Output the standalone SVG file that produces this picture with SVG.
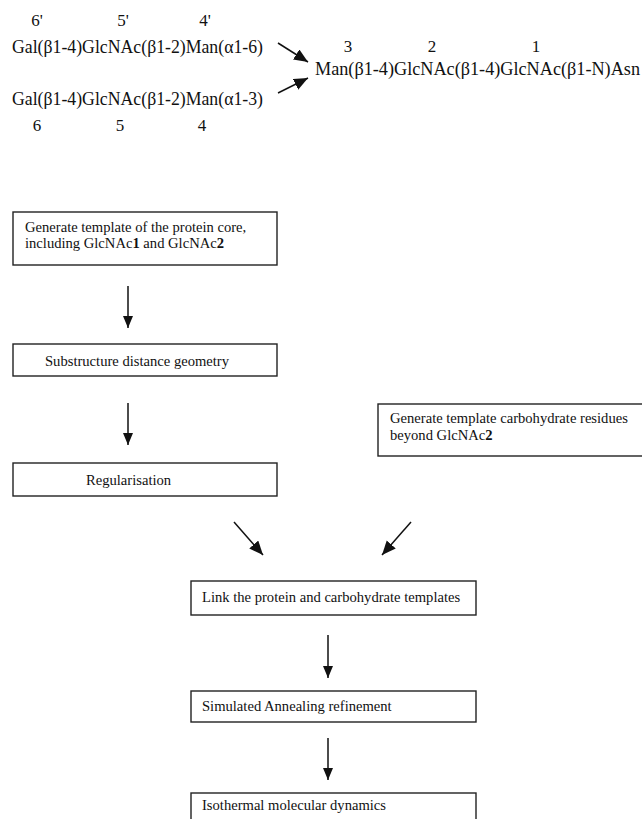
<svg xmlns="http://www.w3.org/2000/svg" width="642" height="819" viewBox="0 0 642 819">
<style>
text{font-family:"Liberation Serif","Times New Roman",serif;fill:#111}
.chem{font-size:18px}
.num{font-size:17px;text-anchor:middle}
.lbl{font-size:14.6px}
.box{fill:#fff;stroke:#222;stroke-width:1.4}
.conn line{stroke:#111;stroke-width:1.5}
</style>
<defs>
<marker id="ah" markerUnits="userSpaceOnUse" markerWidth="13" markerHeight="11" refX="12" refY="5" orient="auto">
<path d="M0,0 L12,5 L0,10 z" fill="#111"/>
</marker>
<marker id="ahb" markerUnits="userSpaceOnUse" markerWidth="15" markerHeight="13" refX="14" refY="6" orient="auto">
<path d="M0,0 L14,6 L0,12 z" fill="#111"/>
</marker>
</defs>
<rect width="642" height="819" fill="#fff"/>

<g id="glycan">
<text class="num" x="37" y="26">6'</text>
<text class="num" x="123" y="26">5'</text>
<text class="num" x="205" y="26">4'</text>
<text class="chem" x="12" y="53" textLength="251" lengthAdjust="spacingAndGlyphs">Gal(β1-4)GlcNAc(β1-2)Man(α1-6)</text>
<text class="chem" x="12" y="105" textLength="251" lengthAdjust="spacingAndGlyphs">Gal(β1-4)GlcNAc(β1-2)Man(α1-3)</text>
<text class="num" x="37" y="131">6</text>
<text class="num" x="120" y="131">5</text>
<text class="num" x="202" y="131">4</text>
<text class="num" x="348" y="52">3</text>
<text class="num" x="432" y="52">2</text>
<text class="num" x="536" y="52">1</text>
<text class="chem" x="315" y="75" textLength="325" lengthAdjust="spacingAndGlyphs">Man(β1-4)GlcNAc(β1-4)GlcNAc(β1-N)Asn</text>
</g>

<g id="n1">
<rect class="box" x="13" y="212" width="264" height="53"/>
<text class="lbl" x="25" y="232">Generate template of the protein core,</text>
<text class="lbl" x="25" y="248">including GlcNAc<tspan font-weight="bold">1</tspan> and GlcNAc<tspan font-weight="bold">2</tspan></text>
</g>
<g id="n2">
<rect class="box" x="13" y="344" width="264" height="32"/>
<text class="lbl" x="45" y="366">Substructure distance geometry</text>
</g>
<g id="n3">
<rect class="box" x="13" y="463" width="264" height="33"/>
<text class="lbl" x="86" y="485">Regularisation</text>
</g>
<g id="n4">
<rect class="box" x="378" y="404" width="270" height="52"/>
<text class="lbl" x="390" y="423">Generate template carbohydrate residues</text>
<text class="lbl" x="390" y="440">beyond GlcNAc<tspan font-weight="bold">2</tspan></text>
</g>
<g id="n5">
<rect class="box" x="191" y="581" width="285" height="34"/>
<text class="lbl" x="202" y="602">Link the protein and carbohydrate templates</text>
</g>
<g id="n6">
<rect class="box" x="191" y="691" width="285" height="31"/>
<text class="lbl" x="202" y="711">Simulated Annealing refinement</text>
</g>
<g id="n7">
<rect class="box" x="191" y="793" width="285" height="40"/>
<text class="lbl" x="202" y="810">Isothermal molecular dynamics</text>
</g>

<g id="connectors" class="conn">
<line x1="278" y1="43" x2="308" y2="62" marker-end="url(#ahb)"/>
<line x1="278" y1="93" x2="308" y2="78" marker-end="url(#ahb)"/>
<line x1="128" y1="286" x2="128" y2="328" marker-end="url(#ah)"/>
<line x1="128" y1="403" x2="128" y2="445" marker-end="url(#ah)"/>
<line x1="234" y1="522" x2="263" y2="555" marker-end="url(#ahb)"/>
<line x1="411" y1="522" x2="382" y2="555" marker-end="url(#ahb)"/>
<line x1="328" y1="635" x2="328" y2="678" marker-end="url(#ah)"/>
<line x1="328" y1="738" x2="328" y2="780" marker-end="url(#ah)"/>
</g>
</svg>
